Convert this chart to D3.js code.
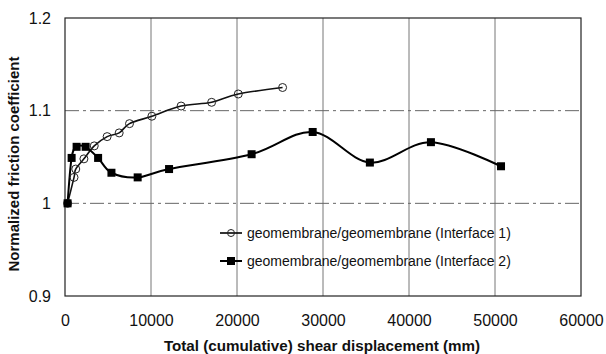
<!DOCTYPE html>
<html>
<head>
<meta charset="utf-8">
<script src="https://cdn.jsdelivr.net/npm/d3@7"></script>
<style>
  html, body { margin: 0; padding: 0; background: #fff; }
  svg { display: block; font-family: "Liberation Sans", Arial, Helvetica, sans-serif; }
</style>
</head>
<body>
<svg id="chart" width="606" height="354"></svg>
<script>
// Interface 1: geomembrane/geomembrane, cumulative displacement (mm) vs normalized friction
const disp1 = [300, 1050, 1250, 2200, 3400, 4900, 6300, 7500, 10100, 13500, 17050, 20150, 25300];
const fric1 = [1.0, 1.028, 1.037, 1.048, 1.062, 1.072, 1.076, 1.086, 1.094, 1.105, 1.109, 1.118, 1.125];

// Interface 2
const disp2 = [300, 770, 1350, 2400, 3850, 5400, 8450, 12100, 21700, 28800, 35450, 42550, 50700];
const fric2 = [1.0, 1.049, 1.061, 1.061, 1.049, 1.033, 1.028, 1.037, 1.053, 1.077, 1.044, 1.066, 1.040];

const xTicks = [0, 10000, 20000, 30000, 40000, 50000, 60000];
const yTicks = [0.9, 1.0, 1.1, 1.2];
const seriesNames = [
  "geomembrane/geomembrane (Interface 1)",
  "geomembrane/geomembrane (Interface 2)"
];

const svg = d3.select("#chart");
const plotL = 65, plotR = 581, plotT = 18, plotB = 296;

const x = d3.scaleLinear().domain([0, 60000]).range([plotL, plotR]);
const y = d3.scaleLinear().domain([0.9, 1.2]).range([plotB, plotT]);

// grid lines
svg.append("g").selectAll("line").data(xTicks.slice(1, -1)).join("line")
  .attr("x1", d => x(d)).attr("x2", d => x(d))
  .attr("y1", plotT).attr("y2", plotB)
  .attr("stroke", "#777").attr("stroke-width", 1);
svg.append("g").selectAll("line").data(yTicks.slice(1, -1)).join("line")
  .attr("x1", plotL).attr("x2", plotR)
  .attr("y1", d => y(d)).attr("y2", d => y(d))
  .attr("stroke", "#666").attr("stroke-width", 1)
  .attr("stroke-dasharray", "14,4,3,4");

// plot frame
svg.append("rect")
  .attr("x", plotL).attr("y", plotT)
  .attr("width", plotR - plotL).attr("height", plotB - plotT)
  .attr("fill", "none").attr("stroke", "#222").attr("stroke-width", 1.2);

// axes (labels only)
const xAxis = d3.axisBottom(x).tickValues(xTicks).tickSize(0).tickPadding(19)
  .tickFormat(d3.format("d"));
const gx = svg.append("g").attr("transform", `translate(0,${plotB})`).call(xAxis);
gx.select(".domain").remove();
gx.selectAll("text").attr("font-size", 16).attr("fill", "#111")
  .attr("font-family", "Liberation Sans, Arial, sans-serif");

const yAxis = d3.axisLeft(y).tickValues(yTicks).tickSize(0).tickPadding(14)
  .tickFormat(d => d === 1 ? "1" : d3.format(".1f")(d));
const gy = svg.append("g").attr("transform", `translate(${plotL},0)`).call(yAxis);
gy.select(".domain").remove();
gy.selectAll("text").attr("font-size", 16).attr("fill", "#111")
  .attr("font-family", "Liberation Sans, Arial, sans-serif");

// axis titles
svg.append("text")
  .attr("x", 322).attr("y", 351)
  .attr("text-anchor", "middle")
  .attr("font-size", 15.2).attr("font-weight", "bold").attr("fill", "#111")
  .text("Total (cumulative) shear displacement (mm)");
svg.append("text")
  .attr("transform", "translate(19,164) rotate(-90)")
  .attr("text-anchor", "middle")
  .attr("font-size", 15).attr("font-weight", "bold").attr("fill", "#111")
  .text("Normalized friction coefficient");

// series
const curve = d3.curveCatmullRom.alpha(0);
const line = d3.line().x(d => x(d[0])).y(d => y(d[1])).curve(curve);
const pts1 = disp1.map((d, i) => [d, fric1[i]]);
const pts2 = disp2.map((d, i) => [d, fric2[i]]);

svg.append("path").datum(pts1).attr("d", line)
  .attr("fill", "none").attr("stroke", "#111").attr("stroke-width", 1.6);
svg.append("path").datum(pts2).attr("d", line)
  .attr("fill", "none").attr("stroke", "#000").attr("stroke-width", 2);

svg.append("g").selectAll("circle").data(pts1).join("circle")
  .attr("cx", d => x(d[0])).attr("cy", d => y(d[1])).attr("r", 4)
  .attr("fill", "none").attr("stroke", "#222").attr("stroke-width", 1);
svg.append("g").selectAll("rect").data(pts2).join("rect")
  .attr("x", d => x(d[0]) - 4).attr("y", d => y(d[1]) - 4)
  .attr("width", 8).attr("height", 8).attr("fill", "#000");

// legend
const legend = svg.append("g");
const rows = [233, 261];
rows.forEach((ry, i) => {
  legend.append("line").attr("x1", 220).attr("x2", 242).attr("y1", ry).attr("y2", ry)
    .attr("stroke", "#000").attr("stroke-width", i === 0 ? 1.6 : 2);
  if (i === 0) {
    legend.append("circle").attr("cx", 231).attr("cy", ry).attr("r", 3.5)
      .attr("fill", "none").attr("stroke", "#222").attr("stroke-width", 1);
  } else {
    legend.append("rect").attr("x", 227).attr("y", ry - 4).attr("width", 8).attr("height", 8)
      .attr("fill", "#000");
  }
  legend.append("text").attr("x", 247).attr("y", ry).attr("dy", "0.35em")
    .attr("font-size", 14).attr("fill", "#111")
    .text(seriesNames[i]);
});
</script>
</body>
</html>
